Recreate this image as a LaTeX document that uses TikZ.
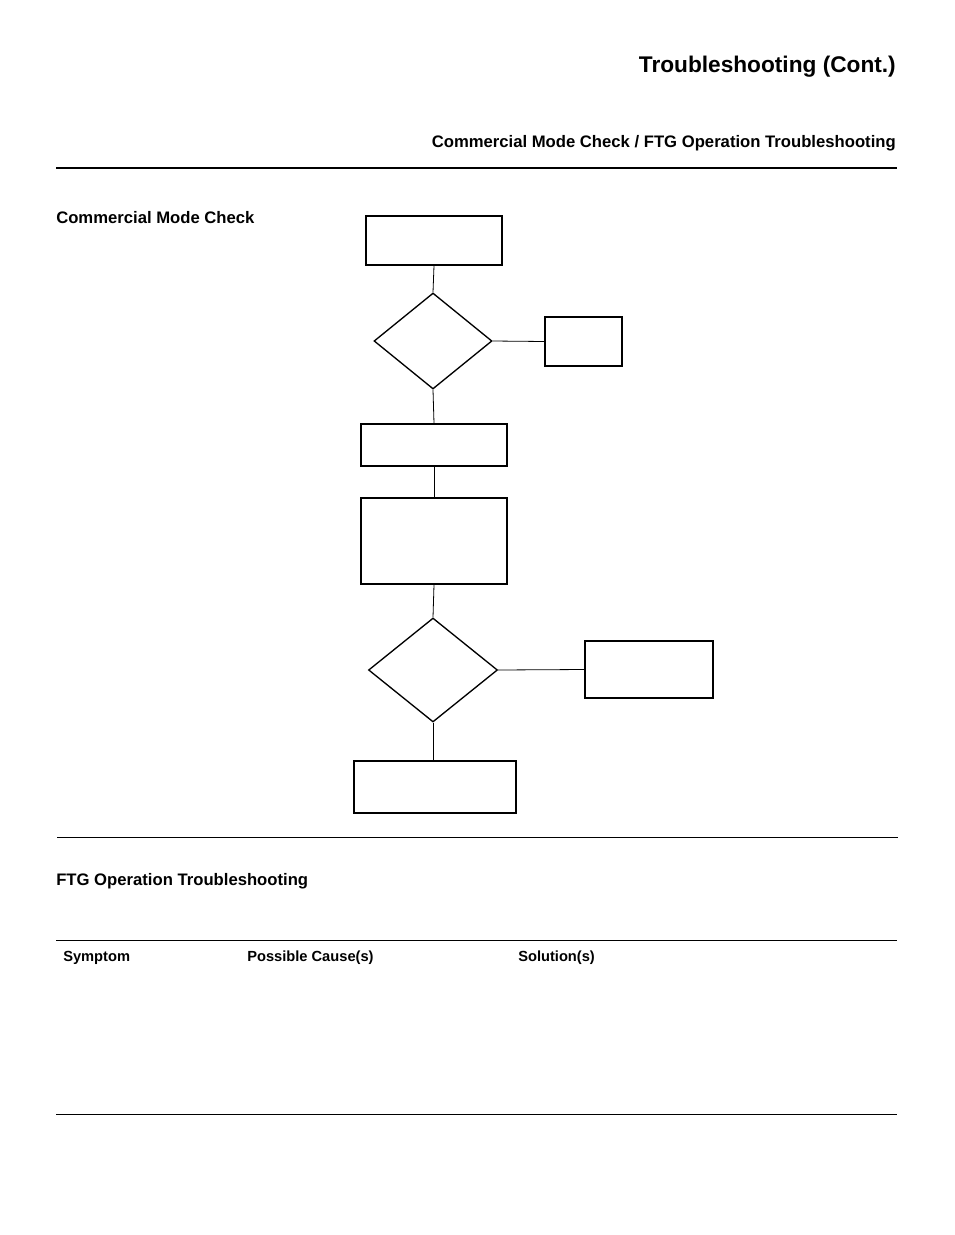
\documentclass[tikz,border=0pt]{standalone}
\usepackage{fontspec}
\setmainfont{Liberation Sans}
\usetikzlibrary{shapes.geometric}
\begin{document}
\begin{tikzpicture}[x=0.75pt,y=-0.75pt,
  fbox/.style={draw,line width=1pt,inner sep=0pt},
  fdia/.style={draw,line width=1pt,diamond,inner sep=0pt,minimum width=#1},
  conn/.style={line width=0.6pt},
  head/.style={font=\bfseries\fontsize{12.5}{14}\selectfont,inner sep=0pt},
  thead/.style={font=\bfseries\fontsize{11}{13}\selectfont,inner sep=0pt,anchor=west}]
\useasboundingbox (0,0) rectangle (954,1235);
\node[font=\bfseries\fontsize{17}{20}\selectfont,anchor=east,inner sep=0pt] (title) at (896,67) {Troubleshooting (Cont.)};
\node[head,anchor=east] (sub) at (896,143) {Commercial Mode Check / FTG Operation Troubleshooting};
\draw[line width=2.2pt] (56,168) coordinate (t1) -- (897,168) coordinate (t2);
\node[head,anchor=west] (cmc) at (56,218) {Commercial Mode Check};
\node[fbox,minimum width=136*0.75pt,minimum height=49*0.75pt] (b1) at (434,240.5) {};
\node[fdia=10pt,minimum width=118*0.75pt,minimum height=96*0.75pt,aspect=1.23] (d1) at (433,341) {};
\node[fbox,minimum width=77*0.75pt,minimum height=49*0.75pt] (bs) at (583.5,341.5) {};
\node[fbox,minimum width=146*0.75pt,minimum height=42*0.75pt] (b3) at (434,445) {};
\node[fbox,minimum width=146*0.75pt,minimum height=86*0.75pt] (b4) at (434,541) {};
\node[fdia=10pt,minimum width=129*0.75pt,minimum height=104*0.75pt,aspect=1.24] (d2) at (433,670) {};
\node[fbox,minimum width=128*0.75pt,minimum height=57*0.75pt] (br) at (649,669.5) {};
\node[fbox,minimum width=162*0.75pt,minimum height=52*0.75pt] (bb) at (435,787) {};
\draw[conn] (b1.south) -- (d1.north);
\draw[conn] (d1.east) -- (bs.west);
\draw[conn] (d1.south) -- (b3.north);
\draw[conn] (b3.south) -- (b4.north);
\draw[conn] (b4.south) -- (d2.north);
\draw[conn] (d2.east) -- (br.west);
\draw[conn] (d2.south) -- (bb.north -| d2.south);
\draw[line width=0.6pt] (57,837) coordinate (l1) -- (898,837) coordinate (l2);
\node[head,anchor=west] (ftg) at (56,881) {FTG Operation Troubleshooting};
\draw[line width=0.6pt] (56,940) coordinate (l3) -- (897,940) coordinate (l4);
\node[thead] (h1) at (63,958) {Symptom};
\node[thead] (h2) at (247,958) {Possible Cause(s)};
\node[thead] (h3) at (518,958) {Solution(s)};
\draw[line width=0.6pt] (56,1114) coordinate (l5) -- (897,1114) coordinate (l6);
\end{tikzpicture}
\end{document}
